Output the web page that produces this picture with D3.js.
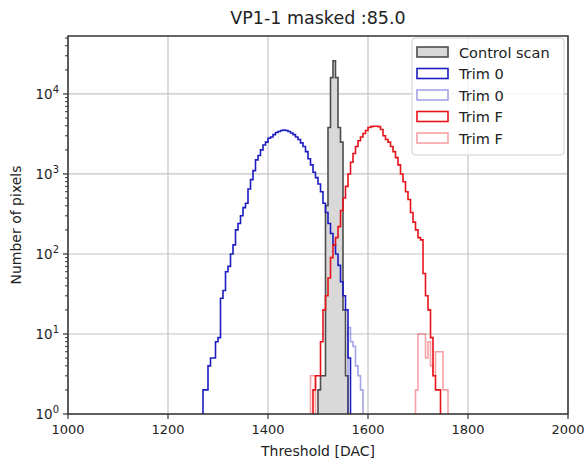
<!DOCTYPE html>
<html>
<head>
<meta charset="utf-8">
<script src="https://cdn.jsdelivr.net/npm/d3@7"></script>
<style>
  body { margin: 0; background: #fff; }
  text { font-family: "DejaVu Sans", sans-serif; fill: #222; }
</style>
</head>
<body>
<div id="chart"></div>
<script>
// histogram bins, 5 DAC wide
var binWidth = 5;

var controlStart = 1500;
var controlCounts = [2, 3, 3, 400, 3800, 16000, 26000, 16000, 3800, 2500, 20, 3];

var trim0Start = 1270;
var trim0Counts = [2, 2, 4, 5, 5, 8, 9, 28, 35, 60, 70, 100, 130, 200, 240, 300, 380, 430,
    650, 850, 1100, 1500, 1700, 2000, 2300, 2500, 2800, 2900, 3100, 3300, 3400, 3500, 3550,
    3500, 3400, 3250, 3100, 2900, 2700, 2450, 2200, 1900, 1550, 1300, 1050, 900, 750, 600,
    430, 330, 240, 180, 130, 100, 72, 45, 30, 20, 5];

var trim0LightStart = 1560;
var trim0LightCounts = [12, 8, 7, 4, 3, 2];

var trimFStart = 1490;
var trimFCounts = [2, 3, 3, 8, 20, 30, 50, 90, 130, 160, 220, 350, 500, 700, 1000, 1400,
    1800, 2200, 2600, 2900, 3200, 3500, 3800, 3900, 3950, 3950, 3900, 3600, 3000, 2700,
    2500, 2200, 1900, 1600, 1300, 1000, 800, 600, 480, 330, 250, 200, 160, 150, 57, 30,
    20, 9, 3, 2, 2];

var trimFLightLowStart = 1485;
var trimFLightLowCounts = [3, 3];
var trimFLightHighStart = 1695;
var trimFLightHighCounts = [2, 10, 10, 10, 5, 8, 4, 3, 6, 6, 6, 2, 2];

var xTicks = [1000, 1200, 1400, 1600, 1800, 2000];
var yTicks = [1, 10, 100, 1000, 10000];
var legendLabels = ["Control scan", "Trim 0", "Trim 0", "Trim F", "Trim F"];

var width = 585,
    height = 460,
    plotLeft = 68,
    plotRight = 568,
    plotTop = 36,
    plotBottom = 414;

var svg = d3.select("#chart")
    .append("svg")
    .attr("width", width)
    .attr("height", height);

var x = d3.scaleLinear().domain([1000, 2000]).range([plotLeft, plotRight]);
var y = d3.scaleLog().domain([1, 53000]).range([plotBottom, plotTop]).clamp(true);

svg.append("clipPath")
    .attr("id", "plot-clip")
    .append("rect")
    .attr("x", plotLeft)
    .attr("y", plotTop)
    .attr("width", plotRight - plotLeft)
    .attr("height", plotBottom - plotTop);

// grid
svg.append("g")
    .selectAll("line")
    .data(xTicks).enter()
    .append("line")
    .attr("x1", function(d) { return x(d); })
    .attr("x2", function(d) { return x(d); })
    .attr("y1", plotTop)
    .attr("y2", plotBottom)
    .attr("stroke", "#c4c4c4")
    .attr("stroke-width", 1.2);

svg.append("g")
    .selectAll("line")
    .data(yTicks).enter()
    .append("line")
    .attr("x1", plotLeft)
    .attr("x2", plotRight)
    .attr("y1", function(d) { return y(d); })
    .attr("y2", function(d) { return y(d); })
    .attr("stroke", "#c4c4c4")
    .attr("stroke-width", 1.2);

// step outline of a histogram, starting and ending on the baseline
function stepPath(start, counts) {
    var p = d3.path();
    p.moveTo(x(start), y(1));
    counts.forEach(function(c, i) {
        var x0 = x(start + i * binWidth),
            x1 = x(start + (i + 1) * binWidth);
        p.lineTo(x0, y(Math.max(c, 1)));
        p.lineTo(x1, y(Math.max(c, 1)));
    });
    p.lineTo(x(start + counts.length * binWidth), y(1));
    return p.toString();
}

var plot = svg.append("g").attr("clip-path", "url(#plot-clip)");

var series = [
    { start: controlStart, counts: controlCounts, stroke: "#4d4d4d", fill: "#d9d9d9", opacity: 1 },
    { start: trim0Start, counts: trim0Counts, stroke: "#1c1cc0", fill: "none", opacity: 1 },
    { start: trim0LightStart, counts: trim0LightCounts, stroke: "#1c1cc0", fill: "none", opacity: 0.4 },
    { start: trimFStart, counts: trimFCounts, stroke: "#e8131a", fill: "none", opacity: 1 },
    { start: trimFLightLowStart, counts: trimFLightLowCounts, stroke: "#e8131a", fill: "none", opacity: 0.4 },
    { start: trimFLightHighStart, counts: trimFLightHighCounts, stroke: "#e8131a", fill: "none", opacity: 0.4 }
];

plot.selectAll("path")
    .data(series).enter()
    .append("path")
    .attr("d", function(d) { return stepPath(d.start, d.counts); })
    .attr("fill", function(d) { return d.fill; })
    .attr("stroke", function(d) { return d.stroke; })
    .attr("stroke-opacity", function(d) { return d.opacity; })
    .attr("stroke-width", 1.6)
    .attr("stroke-linejoin", "miter");

// frame
svg.append("rect")
    .attr("x", plotLeft)
    .attr("y", plotTop)
    .attr("width", plotRight - plotLeft)
    .attr("height", plotBottom - plotTop)
    .attr("fill", "none")
    .attr("stroke", "#333")
    .attr("stroke-width", 1.5);

// x axis ticks
var xAxis = svg.append("g");
xAxis.selectAll("line")
    .data(xTicks).enter()
    .append("line")
    .attr("x1", function(d) { return x(d); })
    .attr("x2", function(d) { return x(d); })
    .attr("y1", plotBottom)
    .attr("y2", plotBottom + 5)
    .attr("stroke", "#333")
    .attr("stroke-width", 1.2);
xAxis.selectAll("text")
    .data(xTicks).enter()
    .append("text")
    .attr("x", function(d) { return x(d); })
    .attr("y", plotBottom + 20)
    .attr("text-anchor", "middle")
    .style("font-size", "13px")
    .text(function(d) { return d; });

// y axis ticks (log, with minors)
var minors = [];
yTicks.forEach(function(t) {
    for (var k = 2; k <= 9; k++) if (t * k < 53000) minors.push(t * k);
});
var yAxis = svg.append("g");
yAxis.selectAll("line.minor")
    .data(minors).enter()
    .append("line")
    .attr("class", "minor")
    .attr("x1", plotLeft - 3)
    .attr("x2", plotLeft)
    .attr("y1", function(d) { return y(d); })
    .attr("y2", function(d) { return y(d); })
    .attr("stroke", "#333");
yAxis.selectAll("line.major")
    .data(yTicks).enter()
    .append("line")
    .attr("class", "major")
    .attr("x1", plotLeft - 5)
    .attr("x2", plotLeft)
    .attr("y1", function(d) { return y(d); })
    .attr("y2", function(d) { return y(d); })
    .attr("stroke", "#333")
    .attr("stroke-width", 1.2);
var yLabel = yAxis.selectAll("text")
    .data(yTicks).enter()
    .append("text")
    .attr("x", plotLeft - 9)
    .attr("y", function(d) { return y(d) + 5; })
    .attr("text-anchor", "end")
    .style("font-size", "13.5px");
yLabel.append("tspan").text("10");
yLabel.append("tspan")
    .attr("dy", -6)
    .style("font-size", "10px")
    .text(function(d) { return Math.round(Math.log10(d)); });

// axis labels and title
svg.append("text")
    .attr("x", (plotLeft + plotRight) / 2)
    .attr("y", 456)
    .attr("text-anchor", "middle")
    .style("font-size", "14px")
    .text("Threshold [DAC]");

svg.append("text")
    .attr("transform", "translate(21," + ((plotTop + plotBottom) / 2) + ") rotate(-90)")
    .attr("text-anchor", "middle")
    .style("font-size", "14px")
    .text("Number of pixels");

svg.append("text")
    .attr("x", (plotLeft + plotRight) / 2)
    .attr("y", 24)
    .attr("text-anchor", "middle")
    .style("font-size", "17.5px")
    .text("VP1-1 masked :85.0");

// legend
var legend = svg.append("g").attr("transform", "translate(412,38)");
legend.append("rect")
    .attr("width", 152)
    .attr("height", 117)
    .attr("rx", 3)
    .attr("fill", "#fff")
    .attr("fill-opacity", 0.8)
    .attr("stroke", "#d0d0d0");

var handles = [series[0], series[1], series[2], series[3], series[4]];
var item = legend.selectAll("g.item")
    .data(handles).enter()
    .append("g")
    .attr("class", "item")
    .attr("transform", function(d, i) { return "translate(5," + (9 + i * 21.5) + ")"; });
item.append("rect")
    .attr("width", 31)
    .attr("height", 10)
    .attr("fill", function(d) { return d.fill === "none" ? "#fff" : d.fill; })
    .attr("stroke", function(d) { return d.stroke; })
    .attr("stroke-opacity", function(d) { return d.opacity; })
    .attr("stroke-width", 1.6);
item.append("text")
    .attr("x", 42)
    .attr("y", 10.5)
    .style("font-size", "14.5px")
    .text(function(d, i) { return legendLabels[i]; });
</script>
</body>
</html>
